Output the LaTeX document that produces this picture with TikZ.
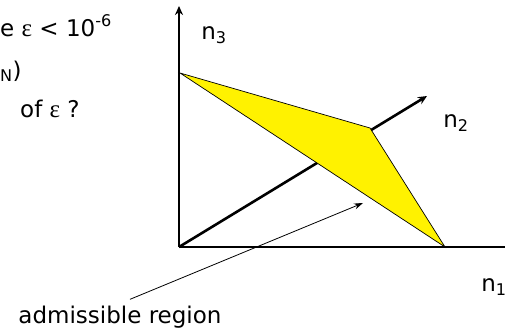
\documentclass[tikz,border=0pt]{standalone}
\usepackage{fontspec}
\setmainfont{DejaVu Sans}
\newfontfamily\greekfont{Liberation Serif}
\usetikzlibrary{arrows.meta}
\tikzset{
  txt/.style={draw=none, fill=none, black, font=\fontsize{23}{26}\selectfont, inner sep=0pt},
  axislines/.style={line width=2.6pt},
  axisarrow/.style={axislines, -{Stealth[length=9pt,width=8pt]}},
  region/.style={line width=0.7pt, draw=black, fill=yellow, line join=miter},
  pointer/.style={line width=0.8pt, -{Stealth[length=9pt,width=6pt]}},
}
\newcommand{\eps}{{\greekfont\fontsize{25}{26}\selectfont ε}}
\begin{document}
\begin{tikzpicture}[x=1pt,y=-1pt]
\useasboundingbox (0,0) rectangle (505,332);
\coordinate (o) at (179,247);
\coordinate (top) at (179,6);
\coordinate (right) at (505,247);
\coordinate (diag) at (427,96);
\coordinate (a) at (180,73);
\coordinate (b) at (370,128);
\coordinate (c) at (445,247);
\coordinate (tip) at (363,203);
% axes and the plane
\draw[axisarrow] (o) -- (diag);
\draw[region] (a) -- (b) -- (c) -- cycle;
\draw[axisarrow] (o) -- (top);
\draw[axislines] (o) -- (right);
\node[txt] (n3) at (214,35) {n\textsubscript{3}};
\node[txt] (n2) at (456,123) {n\textsubscript{2}};
\node[txt] (n1) at (494,287) {n\textsubscript{1}};
% text on the left
\node[txt, anchor=base west] (l1) at (0,36) {e \eps{} < 10\textsuperscript{-6}};
\node[txt, anchor=base west] (l2) at (0,78) {\textsubscript{N})};
\node[txt, anchor=base west] (l3) at (20,117) {of \eps{} ?};
\node[txt, anchor=base] (lbl) at (120,323) {admissible region};
\draw[pointer] ([xshift=10pt,yshift=6pt]lbl.north) -- (tip);
\end{tikzpicture}
\end{document}
